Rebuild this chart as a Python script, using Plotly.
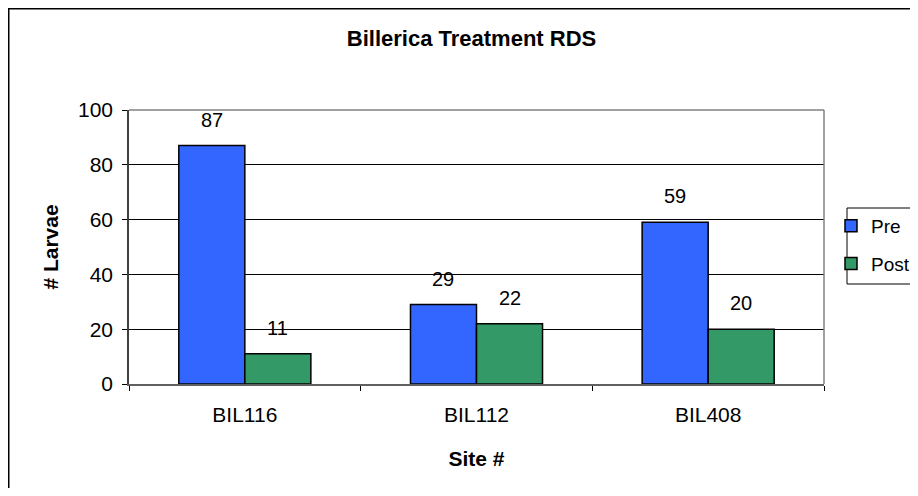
import plotly.graph_objects as go

sites = ["BIL116", "BIL112", "BIL408"]
pre_values = [87, 29, 59]
post_values = [11, 22, 20]
series_names = ["Pre", "Post"]
y_ticks = [0, 20, 40, 60, 80, 100]

# figure is placed at (8, 8) by the page's body margin; sized to fit the window
W, H = 902, 480
ML, MR, MT, MB = 121, 86, 102, 104
PW, PH = W - ML - MR, H - MT - MB
BARGAP = 0.43
FONT = "Liberation Sans, Arial, sans-serif"


def px_x(fx):
    return (fx - ML) / PW


def px_y(fy):
    return (H - MB - fy) / PH


fig = go.Figure()
fig.add_trace(go.Bar(name=series_names[0], x=sites, y=pre_values,
                     marker=dict(color="#3366FF", line=dict(color="black", width=1.5)),
                     legendgroup="a"))
fig.add_trace(go.Bar(name=series_names[1], x=sites, y=post_values,
                     marker=dict(color="#339966", line=dict(color="black", width=1.5)),
                     legendgroup="b"))

bar_px = PW / len(sites) * (1 - BARGAP) / 2
annotations = []
for vals, sh in ((pre_values, -bar_px / 2), (post_values, bar_px / 2)):
    for s, v in zip(sites, vals):
        annotations.append(dict(x=s, y=v, xref="x", yref="y", text=str(v), showarrow=False,
                                xshift=sh, yshift=26, yanchor="middle",
                                font=dict(family=FONT, size=20, color="black")))

shapes = [
    # outer chart border (right/bottom edges fall outside the view)
    dict(type="rect", xref="paper", yref="paper",
         x0=px_x(0.75), x1=px_x(W + 10), y0=px_y(H + 10), y1=px_y(0.75),
         line=dict(color="black", width=1.5), layer="below"),
    # legend box
    dict(type="rect", xref="paper", yref="paper",
         x0=px_x(839), x1=px_x(W + 10), y0=px_y(276), y1=px_y(200),
         line=dict(color="black", width=1), fillcolor="white", layer="below"),
    # top & right border of plot area (gray)
    dict(type="line", xref="paper", yref="paper", x0=0, x1=1, y0=1, y1=1,
         line=dict(color="#808080", width=1.5), layer="above"),
    dict(type="line", xref="paper", yref="paper", x0=1, x1=1, y0=0, y1=1,
         line=dict(color="#808080", width=1.5), layer="above"),
]

fig.update_layout(
    width=W, height=H,
    margin=dict(l=ML, r=MR, t=MT, b=MB, autoexpand=False),
    paper_bgcolor="white", plot_bgcolor="white",
    barmode="group", bargap=BARGAP, bargroupgap=0,
    font=dict(family=FONT, size=21, color="black"),
    title=dict(text="<b>Billerica Treatment RDS</b>", x=463.5 / W, xanchor="center",
               y=1 - 30 / H, yanchor="middle", font=dict(family=FONT, size=22)),
    xaxis=dict(type="category", showline=True, linecolor="#606060", linewidth=1.5,
               ticks="outside", tickson="boundaries", ticklen=5, tickcolor="black",
               showgrid=False, ticklabelstandoff=11,
               title=dict(text="<b>Site #</b>", standoff=26, font=dict(size=21))),
    yaxis=dict(range=[0, 100], tickvals=y_ticks, showline=True, linecolor="#404040",
               linewidth=1.5, ticks="outside", ticklen=5, tickcolor="black",
               showgrid=True, gridcolor="black", gridwidth=1, zeroline=False,
               ticklabelstandoff=5,
               title=dict(text="<b># Larvae</b>", standoff=14, font=dict(size=21))),
    legend=dict(xref="container", yref="container", x=823 / W, y=1 - 199 / H,
                xanchor="left", yanchor="top", bgcolor="rgba(0,0,0,0)",
                borderwidth=0, font=dict(size=19), traceorder="grouped",
                tracegroupgap=10, itemwidth=30),
    annotations=annotations,
    shapes=shapes,
    showlegend=True,
)

fig.write_html("out.html")
